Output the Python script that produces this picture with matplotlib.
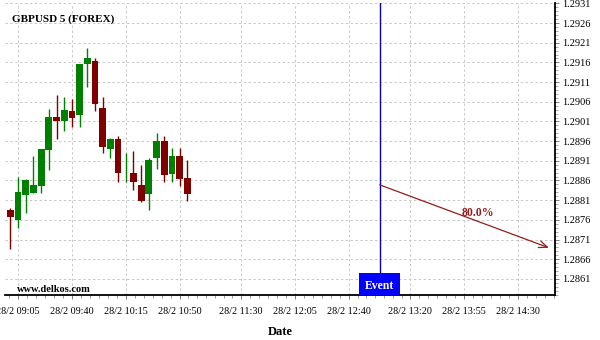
import numpy as np
import matplotlib
matplotlib.use("Agg")
import matplotlib.pyplot as plt
from matplotlib.patches import Rectangle
from matplotlib.ticker import FixedLocator, MultipleLocator, FuncFormatter

plt.rcParams['font.family'] = ['Liberation Serif', 'DejaVu Sans']

# 5-minute candles, GBPUSD
times = ["09:00", "09:05", "09:10", "09:15", "09:20", "09:25", "09:30", "09:35",
         "09:40", "09:45", "09:50", "09:55", "10:00", "10:05", "10:10", "10:15",
         "10:20", "10:25", "10:30", "10:35", "10:40", "10:45", "10:50", "10:55"]
opens = [1.28785, 1.28760, 1.28822, 1.28828, 1.28847, 1.28938, 1.29021, 1.29011,
         1.29036, 1.29026, 1.29155, 1.29163, 1.29044, 1.28940, 1.28965, 1.28878,
         1.28879, 1.28848, 1.28825, 1.28918, 1.28960, 1.28877, 1.28922, 1.28866]
highs = [1.28789, 1.28870, 1.28864, 1.28922, 1.28940, 1.29041, 1.29077, 1.29071,
         1.29068, 1.29155, 1.29196, 1.29170, 1.29071, 1.28968, 1.28972, 1.28931,
         1.28936, 1.28899, 1.28916, 1.28980, 1.28973, 1.28943, 1.28943, 1.28911]
lows = [1.28686, 1.28739, 1.28777, 1.28827, 1.28827, 1.28887, 1.28966, 1.28987,
        1.28996, 1.28996, 1.29098, 1.29037, 1.28929, 1.28918, 1.28857, 1.28857,
        1.28837, 1.28806, 1.28785, 1.28888, 1.28857, 1.28857, 1.28847, 1.28807]
closes = [1.28768, 1.28831, 1.28861, 1.28849, 1.28940, 1.29021, 1.29012, 1.29039,
          1.29018, 1.29155, 1.29170, 1.29055, 1.28946, 1.28965, 1.28880, 1.28880,
          1.28857, 1.28808, 1.28912, 1.28960, 1.28874, 1.28922, 1.28863, 1.28826]

tick_times = ["09:05", "09:40", "10:15", "10:50", "11:30", "12:05",
              "12:40", "13:20", "13:55", "14:30"]
event_time = "13:00"
arrow_end_time = "14:50"
arrow_start_price = 1.28849
arrow_end_price = 1.28689
probability = "80.0%"


def to_min(t):
    h, m = t.split(":")
    return int(h) * 60 + int(m)


x = np.array([to_min(t) for t in times])
o = np.array(opens)
h = np.array(highs)
l = np.array(lows)
c = np.array(closes)

fig = plt.figure(figsize=(6, 3.4), dpi=100)
ax = fig.add_axes([5 / 600, 1 - 295 / 340, 550 / 600, 292 / 340])

green = '#008000'
red = '#800000'
colors = np.where(c >= o, green, red)

ax.vlines(x, l, h, colors=colors, linewidth=1.0, zorder=3)
body_bottom = np.minimum(o, c)
body_height = np.maximum(np.abs(c - o), 0.000012)
ax.bar(x, body_height, bottom=body_bottom, width=4.4, color=colors,
       linewidth=0, zorder=4)

ax.set_xlim(536.5, 894)
ax.set_ylim(1.28569, 1.29311)

# axes look
for side in ['left', 'top']:
    ax.spines[side].set_visible(False)
ax.spines['bottom'].set_linewidth(1.3)
ax.spines['right'].set_linewidth(1.3)

major_x = [to_min(t) for t in tick_times]
minor_x = []
for a, b in zip(major_x[:-1], major_x[1:]):
    n = int(round((b - a) / 5.9))
    minor_x += list(np.linspace(a, b, n + 1)[1:-1])
minor_x += list(np.arange(major_x[0] - 35 / 6, 536, -35 / 6))
minor_x += list(np.arange(major_x[-1] + 35 / 6, 894, 35 / 6))
ax.xaxis.set_major_locator(FixedLocator(major_x))
ax.xaxis.set_minor_locator(FixedLocator(minor_x))
ax.xaxis.set_major_formatter(FuncFormatter(
    lambda v, p: "28/2 %02d:%02d" % (int(round(v)) // 60, int(round(v)) % 60)))
ax.tick_params(axis='x', which='major', length=3, width=0.6, pad=6,
               labelsize=7.3, color='#666666')
ax.tick_params(axis='x', which='minor', length=2, width=0.6, color='#888888')

ax.yaxis.tick_right()
ax.yaxis.set_major_locator(FixedLocator(np.arange(1.2861, 1.29315, 0.0005)))
ax.yaxis.set_minor_locator(MultipleLocator(0.0001))
ax.yaxis.set_major_formatter(FuncFormatter(lambda v, p: "%.4f" % v))
ax.tick_params(axis='y', which='major', length=3, width=0.6, pad=2,
               labelsize=7.5, color='#666666')
ax.tick_params(axis='y', which='minor', length=2, width=0.5, color='#888888')

ax.grid(True, which='major', color='#c8c8c8', linestyle=(0, (2.5, 2.5)),
        linewidth=0.7, zorder=0)

ax.set_xlabel("Date", fontsize=9, fontweight='bold', labelpad=7)

# event marker
ev = to_min(event_time)
box_h = 22 / 292
ax.axvline(ev, ymin=box_h, ymax=1, color='#0000b0', linewidth=1.0, zorder=5)
ax.add_patch(Rectangle((ev - 13.3, 0), 26.6, box_h, transform=ax.get_xaxis_transform(),
                       facecolor='#0000ff', edgecolor='none', zorder=6, clip_on=False))
ax.text(ev, box_h * 0.42, "Event", transform=ax.get_xaxis_transform(),
        ha='center', va='center', color='white', fontsize=8.5, fontweight='bold', zorder=7)

# prediction arrow
ax.annotate("", xy=(to_min(arrow_end_time), arrow_end_price),
            xytext=(ev, arrow_start_price),
            arrowprops=dict(arrowstyle='->,head_length=0.6,head_width=0.25',
                            color='#961c1c', linewidth=0.9, shrinkA=0, shrinkB=0),
            zorder=6)
mid_x = ev + (to_min(arrow_end_time) - ev) * 0.58
mid_y = arrow_start_price + (arrow_end_price - arrow_start_price) * 0.58
ax.text(mid_x, mid_y + 0.00021, probability, ha='center', va='center',
        color='#961c1c', fontsize=8.5, fontweight='bold', zorder=7)

fig.text(12 / 600, 1 - 19 / 340, "GBPUSD 5 (FOREX)", fontsize=8,
         fontweight='bold', va='center', ha='left')
fig.text(17 / 600, 1 - 289 / 340, "www.delkos.com", fontsize=7.5,
         fontweight='bold', va='center', ha='left')

fig.savefig("out.png", dpi=100)
